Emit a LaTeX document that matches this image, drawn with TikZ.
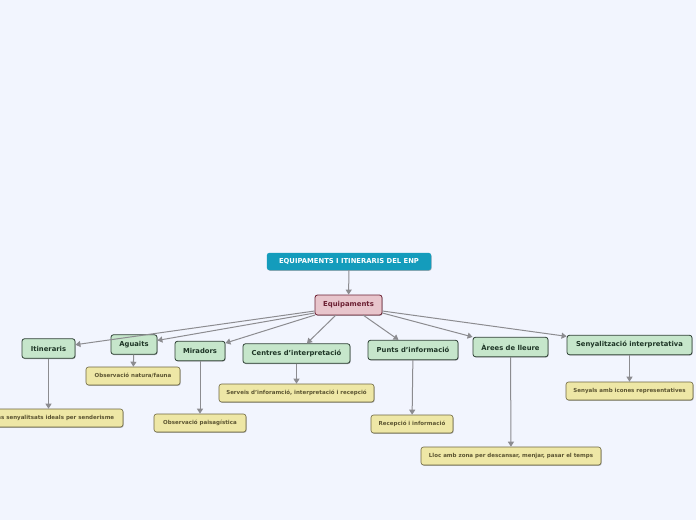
\documentclass[tikz,border=0pt]{standalone}
\usepackage{fontspec}
\setmainfont{DejaVu Sans}
\usetikzlibrary{arrows.meta,shadows}
\definecolor{bg}{HTML}{F2F5FE}
\definecolor{titlefill}{HTML}{149CBC}
\definecolor{pinkfill}{HTML}{E8C5CC}
\definecolor{pinkdraw}{HTML}{6B1F32}
\definecolor{greenfill}{HTML}{C6E6CB}
\definecolor{greendraw}{HTML}{2E4034}
\definecolor{greentext}{HTML}{1E3526}
\definecolor{yelfill}{HTML}{EEE7A6}
\definecolor{yeldraw}{HTML}{6E6740}
\definecolor{yeltext}{HTML}{5C5532}
\definecolor{edgecol}{HTML}{8C8C90}
\tikzset{
  base/.style={rounded corners=2.5pt, inner sep=0pt, align=center, font=\bfseries,
    drop shadow={shadow xshift=0.6pt, shadow yshift=-0.8pt, opacity=0.3, fill=black}},
  titlebox/.style={base, fill=titlefill, draw=titlefill, text=white, font=\bfseries\fontsize{6.8}{7}\selectfont,
    minimum width=164pt, minimum height=17pt},
  rootbox/.style={base, fill=pinkfill, draw=pinkdraw, line width=0.8pt, text=pinkdraw, font=\bfseries\fontsize{6.9}{7}\selectfont,
    minimum height=20pt},
  greenbox/.style={base, fill=greenfill, draw=greendraw, line width=0.8pt, text=greentext, font=\bfseries\fontsize{6.8}{7}\selectfont,
    minimum height=19.5pt},
  yelbox/.style={base, fill=yelfill, draw=yeldraw, line width=0.6pt, text=yeltext, font=\bfseries\fontsize{5.5}{6}\selectfont,
    minimum height=18pt},
  conn/.style={draw=edgecol, line width=1pt, -{Triangle[length=5pt,width=6pt]}}
}
\begin{document}
\begin{tikzpicture}[x=1pt,y=-1pt]
\fill[bg] (0,0) rectangle (696,520);
\useasboundingbox (0,0) rectangle (696,520);

\node[titlebox] (title) at (349,261.5) {EQUIPAMENTS I ITINERARIS DEL ENP};
\node[rootbox, minimum width=67pt] (eq) at (348.5,305) {Equipaments};

\node[greenbox, minimum width=53pt] (itin) at (48.5,348.5) {Itineraris};
\node[greenbox, minimum width=46pt] (agu) at (134,344.5) {Aguaits};
\node[greenbox, minimum width=50pt] (mir) at (200,351) {Miradors};
\node[greenbox, minimum width=107pt] (cen) at (296.5,353.5) {Centres d’interpretació};
\node[greenbox, minimum width=90pt] (pun) at (413,350) {Punts d’informació};
\node[greenbox, minimum width=75pt] (are) at (510.5,347) {Àrees de lleure};
\node[greenbox, minimum width=125pt] (sen) at (629.5,345) {Senyalització interpretativa};

\node[yelbox, minimum width=150pt] (y1) at (48,418) {Camins senyalitsats ideals per senderisme};
\node[yelbox, minimum width=94pt] (y2) at (133,376) {Observació natura/fauna};
\node[yelbox, minimum width=92pt] (y3) at (200,423) {Observació paisagística};
\node[yelbox, minimum width=155pt] (y4) at (296.5,393) {Serveis d’inforamció, interpretació i recepció};
\node[yelbox, minimum width=82pt] (y5) at (412,424) {Recepció i informació};
\node[yelbox, minimum width=180pt] (y6) at (511,456) {Lloc amb zona per descansar, menjar, pasar el temps};
\node[yelbox, minimum width=127pt] (y7) at (629.5,391) {Senyals amb icones representatives};

\draw[conn] (title) -- (eq);

\draw[conn] (eq.west |- 0,311) -- (itin);
\draw[conn] (eq.west |- 0,313) -- (agu);
\draw[conn] (315,315) -- (mir);
\draw[conn] (336,315) -- (cen);
\draw[conn] (363,315) -- (pun);
\draw[conn] (eq.east |- 0,313) -- (are);
\draw[conn] (eq.east |- 0,311) -- (sen);

\draw[conn] (itin.south) -- (y1.north -| itin.south);
\draw[conn] (agu) -- (y2);
\draw[conn] (mir) -- (y3);
\draw[conn] (cen) -- (y4);
\draw[conn] (pun) -- (y5);
\draw[conn] (are) -- (y6);
\draw[conn] (sen) -- (y7);
\end{tikzpicture}
\end{document}
